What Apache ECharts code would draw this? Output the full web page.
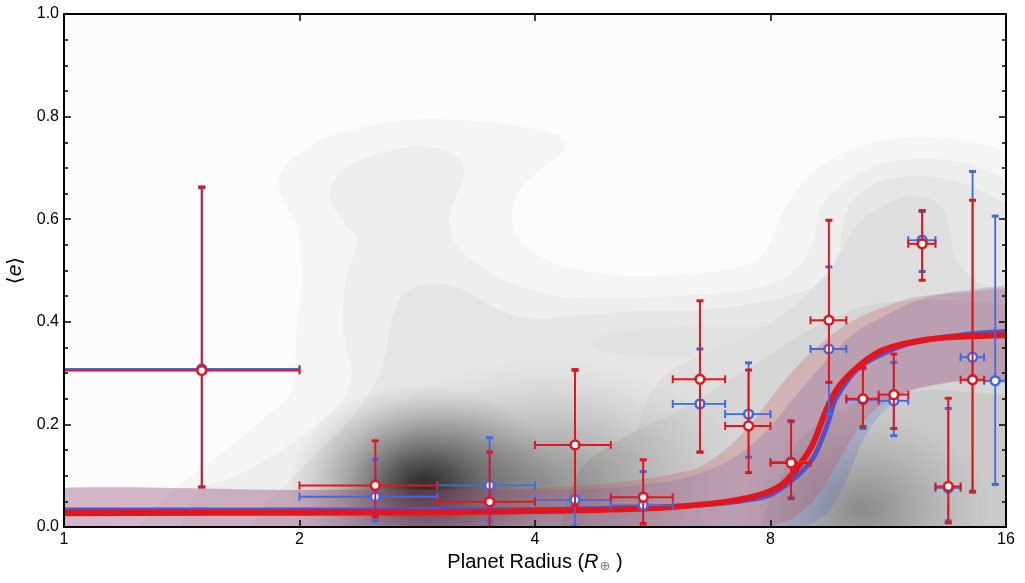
<!DOCTYPE html>
<html>
<head>
<meta charset="utf-8">
<title>Mean eccentricity vs planet radius</title>
<script src="https://cdn.jsdelivr.net/npm/echarts/dist/echarts.min.js"></script>
<style>
html,body{margin:0;padding:0;background:#fff;}
#chart{width:1025px;height:583px;}
</style>
</head>
<body>
<div id="chart"></div>
<script>
// binned <e>: [radius, radius lo, radius hi, e, e lo, e hi]
var redBins = [
    [1.5, 1, 2, 0.305, 0.078, 0.663],
    [2.5, 2, 3, 0.081, 0.020, 0.168],
    [3.5, 3, 4, 0.049, 0.000, 0.146],
    [4.5, 4, 5, 0.160, 0.042, 0.307],
    [5.5, 5, 6, 0.058, 0.007, 0.131],
    [6.5, 6, 7, 0.288, 0.146, 0.441],
    [7.5, 7, 8, 0.197, 0.106, 0.306],
    [8.5, 8, 9, 0.125, 0.055, 0.207],
    [9.5, 9, 10, 0.403, 0.282, 0.598],
    [10.5, 10, 11, 0.250, 0.196, 0.311],
    [11.5, 11, 12, 0.258, 0.192, 0.337],
    [12.5, 12, 13, 0.552, 0.481, 0.617],
    [13.5, 13, 14, 0.079, 0.008, 0.251],
    [14.5, 14, 15, 0.287, 0.068, 0.637]
];
var blueBins = [
    [1.5, 1, 2, 0.308, 0.078, 0.661],
    [2.5, 2, 3, 0.059, 0.012, 0.132],
    [3.5, 3, 4, 0.081, 0.012, 0.174],
    [4.5, 4, 5, 0.053, 0.002, 0.305],
    [5.5, 5, 6, 0.042, 0.002, 0.108],
    [6.5, 6, 7, 0.240, 0.146, 0.347],
    [7.5, 7, 8, 0.220, 0.136, 0.320],
    [8.5, 8, 9, 0.127, 0.058, 0.205],
    [9.5, 9, 10, 0.347, 0.220, 0.507],
    [10.5, 10, 11, 0.248, 0.192, 0.308],
    [11.5, 11, 12, 0.246, 0.178, 0.321],
    [12.5, 12, 13, 0.559, 0.498, 0.615],
    [13.5, 13, 14, 0.076, 0.012, 0.231],
    [14.5, 14, 15, 0.331, 0.070, 0.693],
    [15.5, 15, 16, 0.285, 0.083, 0.606]
];

// model curves
var redCurve = [[1,0.027],[2,0.028],[3,0.029],[4,0.031],[5,0.034],[6,0.039],[7,0.049],[7.5,0.057],[8,0.070],[8.3,0.084],
    [8.55,0.105],[8.81,0.131],[9.07,0.163],[9.32,0.209],[9.51,0.241],[9.82,0.277],[10.34,0.312],[10.94,0.339],
    [11.5,0.352],[12.65,0.365],[14,0.371],[16,0.374]];
var blueCurve = [[1,0.033],[2,0.033],[3,0.033],[4,0.034],[5,0.036],[6,0.040],[7,0.047],[7.5,0.053],[8,0.063],
    [8.55,0.093],[9.0,0.127],[9.3,0.170],[9.5,0.209],[9.68,0.248],[10.05,0.287],[10.4,0.312],[10.94,0.332],
    [12.06,0.358],[13.97,0.374],[16,0.381]];

// model uncertainty bands
var bandX        = [0.9, 2, 3, 4, 5, 6, 6.5, 7, 7.5, 8, 8.5, 9, 9.5, 10, 10.5, 11, 12, 13, 14, 17];
var redBandHigh  = [0.072,0.072,0.073,0.076,0.085,0.103,0.117,0.150,0.195,0.250,0.300,0.340,0.370,0.395,0.412,0.425,0.445,0.453,0.457,0.460];
var redBandLow   = [0,0,0,0,0,0,0,0,0,0.002,0.015,0.045,0.095,0.155,0.205,0.235,0.265,0.278,0.285,0.291];
var blueBandHigh = [0.072,0.072,0.072,0.072,0.076,0.090,0.105,0.125,0.155,0.195,0.245,0.290,0.330,0.365,0.390,0.405,0.435,0.452,0.460,0.466];
var blueBandLow  = [0,0,0,0,0,0,0,0,0,0,0,0.005,0.030,0.090,0.170,0.215,0.265,0.277,0.284,0.290];

// density contours of the sample, light to dark
var density1 = [[1.15,-0.1],[1.25,0],[1.38,0.072],[1.61,0.150],[1.79,0.209],[1.95,0.263],[1.98,0.370],[2.01,0.462],[2.01,0.513],
    [1.99,0.577],[1.92,0.628],[1.88,0.667],[1.92,0.706],[2.00,0.727],[2.12,0.754],[2.30,0.772],[2.65,0.791],[3.04,0.795],
    [3.50,0.789],[3.85,0.780],[4.18,0.768],[4.37,0.752],[4.32,0.727],[4.06,0.696],[3.85,0.663],[3.74,0.610],[3.79,0.569],
    [3.91,0.546],[4.12,0.522],[4.37,0.507],[4.84,0.495],[5.42,0.489],[6.72,0.497],[7.31,0.507],[7.64,0.519],[7.90,0.540],
    [8.08,0.571],[8.25,0.608],[8.45,0.635],[8.80,0.674],[9.34,0.708],[10.11,0.735],[11.08,0.752],[12.06,0.760],[13.14,0.760],
    [14.18,0.754],[15.17,0.743],[16,0.731],[18,0.72],[18,-0.1]];
var density2 = [[1.35,-0.1],[1.41,0],[1.49,0.072],[1.65,0.098],[1.87,0.144],[2.06,0.189],[2.23,0.234],[2.32,0.277],[2.33,0.306],
    [2.28,0.370],[2.27,0.415],[2.30,0.493],[2.37,0.558],[2.27,0.596],[2.19,0.637],[2.20,0.667],[2.30,0.702],[2.50,0.725],
    [2.77,0.741],[3.03,0.737],[3.15,0.727],[3.25,0.694],[3.19,0.653],[3.11,0.610],[3.12,0.579],[3.15,0.558],[3.26,0.530],
    [3.43,0.507],[3.61,0.485],[3.85,0.468],[4.12,0.454],[4.43,0.448],[5.42,0.448],[6.72,0.454],[7.76,0.468],[8.57,0.499],
    [9.07,0.558],[9.20,0.610],[9.53,0.647],[10.02,0.674],[10.72,0.700],[11.41,0.713],[13.14,0.717],[14.18,0.710],[15.17,0.694],
    [16,0.680],[18,0.67],[18,-0.1]];
var density3 = [[1.65,-0.1],[1.73,0],[2.00,0.111],[2.32,0.209],[2.54,0.306],[2.63,0.409],[2.69,0.446],[2.79,0.466],[3.03,0.474],
    [3.30,0.456],[3.56,0.427],[3.94,0.407],[4.57,0.413],[5.45,0.421],[6.72,0.425],[8.32,0.448],[9.34,0.480],[9.76,0.530],
    [9.87,0.577],[10.17,0.635],[11.08,0.674],[12.61,0.684],[14.52,0.663],[16,0.632],[18,0.62],[18,-0.1]];
var density4 = [[4.7,0.355],[5.0,0.378],[6.0,0.39],[7.0,0.392],[8.0,0.386],[8.1,0.355],[7.0,0.336],[6.0,0.330],[5.2,0.335]];
var density5 = [[5.0,-0.1],[5.14,0],[5.45,0.209],[5.78,0.287],[6.50,0.335],[7.76,0.384],[8.73,0.442],[9.53,0.501],[9.96,0.550],
    [10.41,0.595],[10.91,0.618],[11.71,0.641],[12.24,0.645],[12.98,0.635],[13.41,0.608],[13.57,0.569],[13.81,0.524],
    [14.60,0.481],[16,0.462],[18,0.45],[18,-0.1]];
var density6 = [[4.2,-0.1],[4.31,0],[4.57,0.111],[5.14,0.170],[6.13,0.228],[7.10,0.287],[7.99,0.335],[8.73,0.374],[9.53,0.404],
    [10.72,0.433],[12.42,0.442],[13.97,0.442],[16,0.433],[18,0.43],[18,-0.1]];
var density7 = [[7.6,-0.1],[7.76,0],[8.23,0.092],[8.73,0.170],[9.82,0.228],[11.04,0.257],[12.79,0.267],[14.82,0.261],[16,0.257],
    [18,0.25],[18,-0.1]];
var densityLevels = [density1, density2, density3, density4, density5, density6, density7];

// density peaks: [radius lo, radius hi, e lo, e hi, strength]
var densityPeaks = [
    [7.17, 15.37, -0.165, 0.235, 0.30],
    [2.3, 7.4, -0.16, 0.33, 0.36],
    [1.93, 4.28, -0.12, 0.28, 0.78]
];

var levelColors = ['#f5f5f5', '#eeeeee', '#e6e6e6', '#e1e1e1', '#dedede', '#d5d5d5', '#cacaca'];
var red = '#e3161d';
var blue = '#4169e1';
var font = '"Liberation Sans", Arial, sans-serif';

var chart = echarts.init(document.getElementById('chart'));

function renderDensity(params, api) {
    var pts = densityLevels[params.dataIndex].map(function (p) { return api.coord(p); });
    return {
        type: 'polygon',
        shape: { points: pts, smooth: 0.35 },
        style: { fill: levelColors[params.dataIndex] }
    };
}

function renderPeak(params, api) {
    var a = api.coord([api.value(0), api.value(2)]);
    var b = api.coord([api.value(1), api.value(3)]);
    var k = api.value(4);
    var R = 100;
    var prof = [[0, 1], [0.1, 0.93], [0.25, 0.75], [0.4, 0.55], [0.55, 0.37], [0.7, 0.22], [0.85, 0.09], [1, 0]];
    return {
        type: 'circle',
        x: (a[0] + b[0]) / 2,
        y: (a[1] + b[1]) / 2,
        scaleX: Math.abs(b[0] - a[0]) / 2 / R,
        scaleY: Math.abs(b[1] - a[1]) / 2 / R,
        shape: { cx: 0, cy: 0, r: R },
        style: {
            fill: {
                type: 'radial', x: 0.5, y: 0.5, r: 0.5,
                colorStops: prof.map(function (s) {
                    return { offset: s[0], color: 'rgba(0,0,0,' + (s[1] * k).toFixed(3) + ')' };
                })
            }
        }
    };
}

function bandRenderer(high, low, color) {
    return function (params, api) {
        var pts = [];
        for (var i = 0; i < bandX.length; i++) pts.push(api.coord([bandX[i], high[i]]));
        for (var j = bandX.length - 1; j >= 0; j--) pts.push(api.coord([bandX[j], low[j]]));
        return { type: 'polygon', shape: { points: pts, smooth: 0.2 }, style: { fill: color } };
    };
}

function errorBarRenderer(color, lw) {
    return function (params, api) {
        var c = api.coord([api.value(0), api.value(3)]);
        var xl = api.coord([api.value(1), api.value(3)])[0];
        var xr = api.coord([api.value(2), api.value(3)])[0];
        var yl = api.coord([api.value(0), api.value(4)])[1];
        var yh = api.coord([api.value(0), api.value(5)])[1];
        var bar = { stroke: color, lineWidth: lw };
        var hcap = { stroke: color, lineWidth: 2 };
        var vcap = { stroke: color, lineWidth: 3 };
        return {
            type: 'group',
            children: [
                { type: 'line', shape: { x1: xl, y1: c[1], x2: xr, y2: c[1] }, style: bar },
                { type: 'line', shape: { x1: xl, y1: c[1] - 4, x2: xl, y2: c[1] + 4 }, style: hcap },
                { type: 'line', shape: { x1: xr, y1: c[1] - 4, x2: xr, y2: c[1] + 4 }, style: hcap },
                { type: 'line', shape: { x1: c[0], y1: yl, x2: c[0], y2: yh }, style: bar },
                { type: 'line', shape: { x1: c[0] - 3.5, y1: yl, x2: c[0] + 3.5, y2: yl }, style: vcap },
                { type: 'line', shape: { x1: c[0] - 3.5, y1: yh, x2: c[0] + 3.5, y2: yh }, style: vcap },
                { type: 'circle', shape: { cx: c[0], cy: c[1], r: 4.4 }, style: { fill: '#fff', stroke: color, lineWidth: 2.6 } }
            ]
        };
    };
}

var tickStyle = { color: '#000', width: 1.5 };
function xAxisFor(pos, show) {
    return {
        type: 'log', logBase: 2, min: 1, max: 16, position: pos, z: 10,
        axisLine: { onZero: false, lineStyle: { color: '#000', width: 2 } },
        axisTick: { inside: true, length: 7, lineStyle: tickStyle },
        axisLabel: { show: show, color: '#000', fontSize: 16, fontFamily: font, margin: 5 },
        splitLine: { show: false },
        minorSplitLine: { show: false }
    };
}
function yAxisFor(pos, show) {
    return {
        type: 'value', min: 0, max: 1, interval: 0.2, position: pos, z: 10,
        axisLine: { onZero: false, lineStyle: { color: '#000', width: 2 } },
        axisTick: { inside: true, length: 7, lineStyle: tickStyle },
        minorTick: { show: true, splitNumber: 4, length: 4, lineStyle: tickStyle },
        axisLabel: { show: show, color: '#000', fontSize: 16, fontFamily: font, margin: 5,
            formatter: function (v) { return v.toFixed(1); } },
        splitLine: { show: false }
    };
}

var xBottom = xAxisFor('bottom', true);
xBottom.name = 'Planet Radius ({i|R}{s|\u2295} )';
xBottom.nameLocation = 'middle';
xBottom.nameGap = 21;
xBottom.nameTextStyle = {
    color: '#000', fontSize: 20, fontFamily: font,
    rich: {
        i: { fontSize: 20, fontStyle: 'italic', fontFamily: font, color: '#000' },
        s: { fontSize: 13, fontFamily: '"DejaVu Sans", sans-serif', color: '#777', verticalAlign: 'bottom', padding: [8, 0, 0, 1] }
    }
};
var yLeft = yAxisFor('left', true);
yLeft.name = '{b|\u27E8}{i|e}{b|\u27E9}';
yLeft.nameLocation = 'middle';
yLeft.nameRotate = 90;
yLeft.nameGap = 25;
yLeft.nameTextStyle = {
    color: '#000', fontSize: 20, fontFamily: font,
    rich: {
        b: { fontSize: 20, fontFamily: '"DejaVu Sans", sans-serif', color: '#000' },
        i: { fontSize: 21, fontStyle: 'italic', fontFamily: font, color: '#000' }
    }
};

var option = {
    animation: false,
    backgroundColor: '#fff',
    grid: {
        left: 64, right: 19, top: 14, bottom: 56,
        show: true, backgroundColor: '#fbfbfb', borderWidth: 0,
        outerBoundsMode: 'none'
    },
    xAxis: [xBottom, xAxisFor('top', false)],
    yAxis: [yLeft, yAxisFor('right', false)],
    series: [
        {
            name: 'density', type: 'custom', clip: true, z: 1, silent: true,
            data: densityLevels.map(function () { return [1, 0]; }),
            encode: { x: 0, y: 1 },
            renderItem: renderDensity
        },
        {
            name: 'peaks', type: 'custom', clip: true, z: 2, silent: true,
            data: densityPeaks,
            encode: { x: [0, 1], y: [2, 3] },
            renderItem: renderPeak
        },
        {
            name: 'blue band', type: 'custom', clip: true, z: 3, silent: true,
            data: [[1, 0]], encode: { x: 0, y: 1 },
            renderItem: bandRenderer(blueBandHigh, blueBandLow, 'rgba(80,100,200,0.22)')
        },
        {
            name: 'red band', type: 'custom', clip: true, z: 3, silent: true,
            data: [[1, 0]], encode: { x: 0, y: 1 },
            renderItem: bandRenderer(redBandHigh, redBandLow, 'rgba(200,60,60,0.22)')
        },
        {
            name: 'blue model', type: 'line', z: 4, smooth: 0.4, symbol: 'none', clip: true,
            data: blueCurve,
            lineStyle: { color: '#5353c9', width: 5 }
        },
        {
            name: 'red model', type: 'line', z: 5, smooth: 0.4, symbol: 'none', clip: true,
            data: redCurve,
            lineStyle: { color: red, width: 6 }
        },
        {
            name: 'blue bins', type: 'custom', clip: true, z: 6,
            data: blueBins, encode: { x: [0, 1, 2], y: [3, 4, 5] },
            renderItem: errorBarRenderer(blue, 1.8)
        },
        {
            name: 'red bins', type: 'custom', clip: true, z: 7,
            data: redBins, encode: { x: [0, 1, 2], y: [3, 4, 5] },
            renderItem: errorBarRenderer(red, 2)
        }
    ]
};
chart.setOption(option);
window.onresize = chart.resize;
</script>
</body>
</html>
